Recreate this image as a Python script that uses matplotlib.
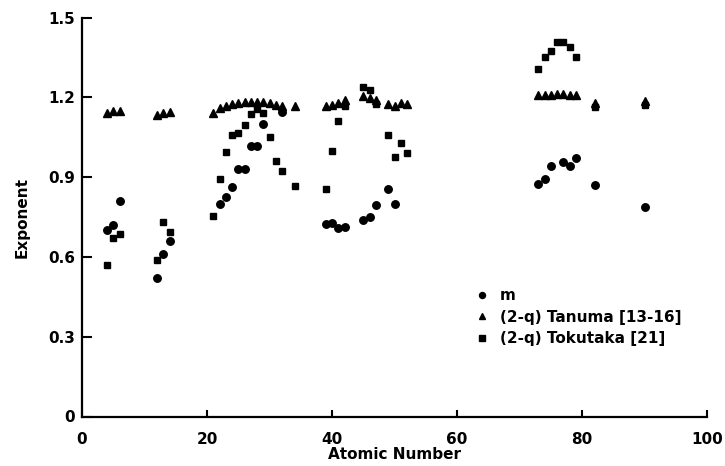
import matplotlib
matplotlib.use("Agg")
import matplotlib.pyplot as plt

# m exponent
m_z = [4, 5, 6, 12, 13, 14,
       22, 23, 24, 25, 26, 27, 28, 29, 32,
       39, 40, 41, 42, 45, 46, 47, 49, 50,
       73, 74, 75, 77, 78, 79, 82, 90]
m_val = [0.70, 0.72, 0.81, 0.52, 0.61, 0.66,
         0.80, 0.824, 0.864, 0.932, 0.932, 1.018, 1.018, 1.10, 1.147,
         0.724, 0.727, 0.709, 0.712, 0.739, 0.751, 0.795, 0.856, 0.799,
         0.874, 0.893, 0.944, 0.956, 0.942, 0.971, 0.871, 0.789]

# (2-q) Tanuma [13-16]
tan_z = [4, 5, 6, 12, 13, 14,
         21, 22, 23, 24, 25, 26, 27, 28, 29, 30, 31, 32, 34,
         39, 40, 41, 42, 45, 46, 47, 49, 50, 51, 52,
         73, 74, 75, 76, 77, 78, 79, 82, 90]
tan_val = [1.14, 1.15, 1.15, 1.135, 1.143, 1.145,
           1.143, 1.16, 1.168, 1.176, 1.181, 1.182, 1.183, 1.183, 1.182, 1.178, 1.172, 1.166, 1.168,
           1.166, 1.17, 1.18, 1.19, 1.204, 1.198, 1.19, 1.175, 1.169, 1.179, 1.175,
           1.208, 1.208, 1.21, 1.213, 1.213, 1.21, 1.208, 1.181, 1.187]

# (2-q) Tokutaka [21]
tok_z = [4, 5, 6, 12, 13, 14,
         21, 22, 23, 24, 25, 26, 27, 28, 29, 30, 31, 32, 34,
         39, 40, 41, 42, 45, 46, 47, 49, 50, 51, 52,
         73, 74, 75, 76, 77, 78, 79, 82, 90]
tok_val = [0.57, 0.67, 0.685, 0.59, 0.732, 0.695,
           0.754, 0.892, 0.994, 1.059, 1.066, 1.097, 1.138, 1.156, 1.141, 1.050, 0.962, 0.923, 0.868,
           0.856, 0.999, 1.112, 1.169, 1.241, 1.229, 1.175, 1.059, 0.975, 1.028, 0.990,
           1.307, 1.352, 1.373, 1.407, 1.407, 1.39, 1.354, 1.164, 1.172]

x_ticks = [0, 20, 40, 60, 80, 100]
y_ticks = [0, 0.3, 0.6, 0.9, 1.2, 1.5]
y_tick_labels = ["0", "0.3", "0.6", "0.9", "1.2", "1.5"]

plt.rcParams["font.family"] = ["DejaVu Sans"]
plt.rcParams["font.weight"] = "bold"

fig = plt.figure(figsize=(7.25, 4.66), dpi=100)
ax = fig.add_axes([82 / 725, (466 - 416.5) / 466, (707 - 82) / 725, (416.5 - 17.7) / 466])

ax.plot(m_z, m_val, linestyle="none", marker="o", markersize=5.4, color="black", label="m")
ax.plot(tan_z, tan_val, linestyle="none", marker="^", markersize=5.7, color="black",
        label="(2-q) Tanuma [13-16]")
ax.plot(tok_z, tok_val, linestyle="none", marker="s", markersize=5.0, color="black",
        label="(2-q) Tokutaka [21]")

ax.set_xlim(0, 100)
ax.set_ylim(0, 1.5)
ax.set_xticks(x_ticks)
ax.set_xticklabels([str(v) for v in x_ticks])
ax.set_yticks(y_ticks)
ax.set_yticklabels(y_tick_labels)

for side in ("top", "right"):
    ax.spines[side].set_visible(False)
for side in ("left", "bottom"):
    ax.spines[side].set_linewidth(1.6)

ax.tick_params(axis="y", direction="in", length=7, width=1.5, pad=5, labelsize=11)
ax.tick_params(axis="x", direction="in", length=5, width=1.5, pad=11, labelsize=11)
for lbl in ax.get_xticklabels() + ax.get_yticklabels():
    lbl.set_fontweight("bold")

ax.set_xlabel("Atomic Number", fontsize=11, fontweight="bold", labelpad=0)
ax.set_ylabel("Exponent", fontsize=11, fontweight="bold", labelpad=13)

ax.legend(loc="upper left", bbox_to_anchor=(0.628, 0.322), frameon=False,
          borderpad=0, borderaxespad=0, handlelength=1.0, handletextpad=0.67,
          labelspacing=0.42, numpoints=1, markerscale=0.8,
          prop={"size": 11, "weight": "bold"})

fig.savefig("out.png", dpi=100)
